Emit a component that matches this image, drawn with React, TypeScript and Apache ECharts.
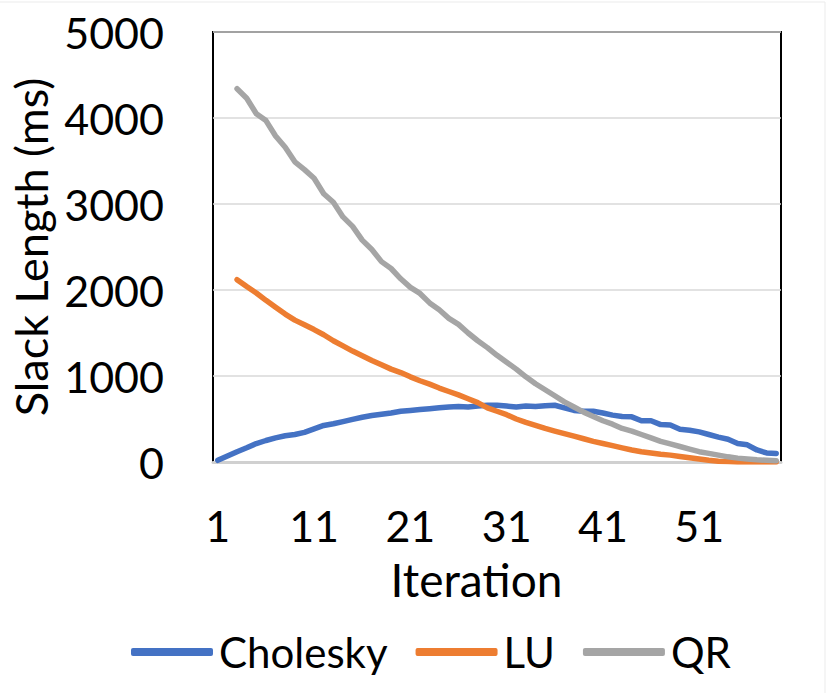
import React, { useEffect, useRef } from "react";
import * as echarts from "echarts";

const iterations: string[] = Array.from({ length: 59 }, (_, i) => String(i + 1));

const cholesky: number[] = [
  20, 70, 120, 165, 215, 250, 280, 305, 320, 345,
  385, 425, 445, 470, 495, 520, 540, 555, 570, 590,
  600, 610, 620, 630, 640, 645, 640, 650, 660, 660,
  650, 640, 650, 645, 655, 660, 630, 600, 590, 590,
  570, 545, 530, 525, 480, 480, 435, 430, 380, 370,
  350, 320, 290, 265, 215, 200, 140, 105, 100,
];

const lu: (number | null)[] = [
  null, null, 2120, 2040, 1965, 1880, 1800, 1720, 1650, 1595,
  1540, 1480, 1410, 1350, 1290, 1235, 1180, 1130, 1080, 1040,
  990, 945, 905, 860, 820, 780, 735, 690, 630, 590,
  550, 500, 460, 425, 390, 360, 330, 300, 270, 240,
  215, 190, 165, 140, 120, 105, 90, 80, 65, 50,
  35, 20, 10, 5, 0, 0, 0, 0, 0,
];

const qr: (number | null)[] = [
  null, null, 4340, 4230, 4050, 3970, 3790, 3660, 3490, 3400,
  3300, 3120, 3020, 2850, 2740, 2580, 2470, 2330, 2250, 2130,
  2030, 1960, 1850, 1770, 1670, 1600, 1500, 1410, 1330, 1240,
  1160, 1080, 990, 910, 840, 770, 700, 640, 580, 530,
  480, 440, 390, 360, 320, 280, 240, 210, 180, 150,
  120, 100, 80, 60, 45, 35, 25, 20, 15,
];

const seriesNames = ["Cholesky", "LU", "QR"];
const colors = ["#4472C4", "#ED7D31", "#A5A5A5"];

const FONT = "Lato";

export default function App() {
  const ref = useRef<HTMLDivElement>(null);
  useEffect(() => {
    document.body.style.margin = "0";
    if (!ref.current) return;
    const chart = echarts.init(ref.current, undefined, { renderer: "svg" });
    const mk = (name: string, data: (number | null)[], color: string) => ({
      name,
      type: "line",
      data,
      symbol: "none",
      showSymbol: false,
      lineStyle: { color, width: 5.5, cap: "round", join: "round" },
      itemStyle: { color },
    });
    chart.setOption({
      animation: false,
      color: colors,
      textStyle: { fontFamily: FONT },
      graphic: [
        {
          type: "rect",
          shape: { x: -2, y: 2, width: 827, height: 700 },
          style: { fill: "none", stroke: "#EBEBEB", lineWidth: 1 },
          silent: true,
          z: -10,
        },
      ],
      grid: {
        left: 213,
        top: 32,
        right: 49,
        bottom: 231,
        show: true,
        borderColor: "#000000",
        borderWidth: 2,
        backgroundColor: "#ffffff",
      },
      legend: {
        left: 126,
        top: 626,
        icon: "roundRect",
        itemWidth: 82,
        itemHeight: 8,
        itemGap: 28,
        data: seriesNames.map((n, i) => ({ name: n, itemStyle: { color: colors[i] } })),
        textStyle: { fontFamily: FONT, fontSize: 42, color: "#000000", padding: [0, 0, 0, 1] },
      },
      xAxis: {
        type: "category",
        data: iterations,
        boundaryGap: true,
        name: "Iteration",
        nameLocation: "middle",
        nameGap: 94,
        nameTextStyle: { fontFamily: FONT, fontSize: 46, color: "#000000", padding: [0, 41, 0, 0] },
        axisLine: { show: true, lineStyle: { color: "#D0D0D0", width: 3 } },
        axisTick: { show: false },
        axisLabel: { interval: 9, margin: 42, fontFamily: FONT, fontSize: 43, color: "#000000" },
        splitLine: { show: false },
      },
      yAxis: {
        type: "value",
        min: 0,
        max: 5000,
        interval: 1000,
        name: "Slack Length (ms)",
        nameLocation: "middle",
        nameGap: 140,
        nameTextStyle: { fontFamily: FONT, fontSize: 45, color: "#000000" },
        axisLine: { show: false },
        axisTick: { show: false },
        axisLabel: {
          margin: 49,
          fontFamily: FONT,
          fontSize: 43,
          color: "#000000",
          formatter: (v: number) => String(v),
        },
        splitLine: { show: true, lineStyle: { color: "#D9D9D9", width: 1.5 } },
      },
      series: [
        mk(seriesNames[0], cholesky, colors[0]),
        mk(seriesNames[1], lu, colors[1]),
        mk(seriesNames[2], qr, colors[2]),
      ],
    });
    return () => chart.dispose();
  }, []);
  return <div ref={ref} style={{ width: 830, height: 693 }} />;
}
